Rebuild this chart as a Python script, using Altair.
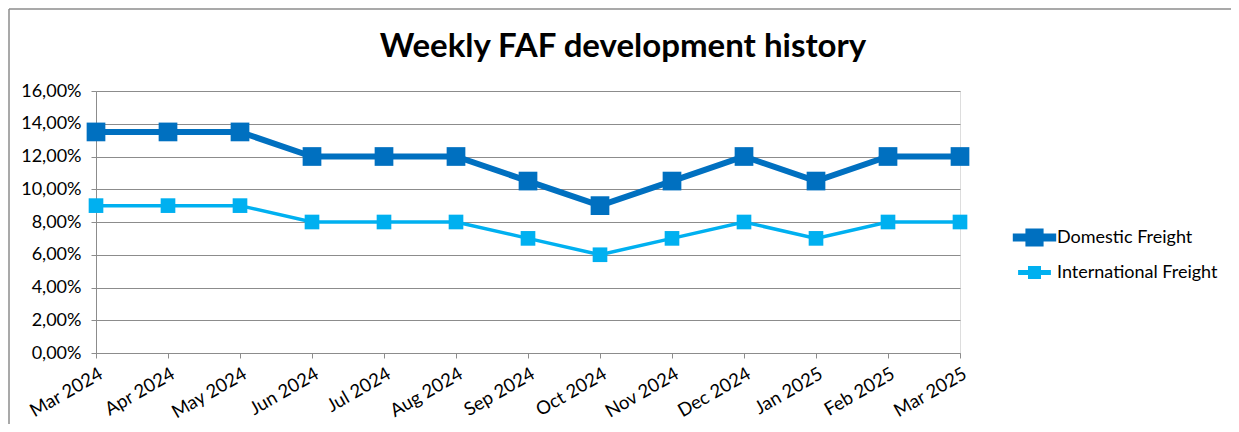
import altair as alt
import pandas as pd

months = ["Mar 2024", "Apr 2024", "May 2024", "Jun 2024", "Jul 2024", "Aug 2024",
          "Sep 2024", "Oct 2024", "Nov 2024", "Dec 2024", "Jan 2025", "Feb 2025", "Mar 2025"]
domestic = [13.5, 13.5, 13.5, 12.0, 12.0, 12.0, 10.5, 9.0, 10.5, 12.0, 10.5, 12.0, 12.0]
international = [9.0, 9.0, 9.0, 8.0, 8.0, 8.0, 7.0, 6.0, 7.0, 8.0, 7.0, 8.0, 8.0]
series_names = ["Domestic Freight", "International Freight"]
series_colors = ["#0070C0", "#00B0F0"]
y_ticks = [0, 0.02, 0.04, 0.06, 0.08, 0.10, 0.12, 0.14, 0.16]
title_text = "Weekly FAF development history"

rows = []
for name, vals in zip(series_names, [domestic, international]):
    for m, v in zip(months, vals):
        rows.append({"month": m, "series": name, "value": v / 100.0})
df = pd.DataFrame(rows)

FONT = "Lato"
GRID = "#8c8c8c"

x_enc = alt.X("month:N", sort=months, scale=alt.Scale(type="point", padding=0),
              axis=alt.Axis(title=None, labelAngle=-30, labelAlign="right", labelBaseline="top",
                            labelPadding=6, labelFontSize=18.5, labelFont=FONT, labelColor="#000",
                            tickColor=GRID, tickSize=5, domainColor=GRID, grid=False, labelFlush=False,
                            labelOverlap=False))
y_enc = alt.Y("value:Q", scale=alt.Scale(domain=[0, 0.16], nice=False),
              axis=alt.Axis(title=None, values=y_ticks,
                            labelExpr="replace(format(datum.value, '.2%'), '.', ',')",
                            labelFontSize=18, labelFont=FONT, labelColor="#000", labelPadding=10,
                            tickColor=GRID, tickSize=5, domainColor=GRID, gridColor=GRID,
                            gridWidth=1.2))

color_enc = alt.Color("series:N", scale=alt.Scale(domain=series_names, range=series_colors),
                      legend=alt.Legend(title=None, orient="none", legendX=926, legendY=134,
                                        symbolType="M-2,-0.11H2V0.11H-2Z M-0.65,-0.65H0.65V0.65H-0.65Z",
                                        symbolSize=2025, symbolStrokeWidth=0,
                                        labelFont=FONT, labelFontSize=18, labelColor="#000",
                                        labelOffset=10, rowPadding=4, labelLimit=400))

base = alt.Chart(df)

lines = base.mark_line().encode(
    x=x_enc, y=y_enc, color=color_enc,
    strokeWidth=alt.StrokeWidth("series:N", scale=alt.Scale(domain=series_names, range=[6, 3.5]), legend=None),
)
points = base.mark_point(shape="square", filled=True, opacity=1).encode(
    x=x_enc, y=y_enc, color=color_enc,
    size=alt.Size("series:N", scale=alt.Scale(domain=series_names, range=[350, 215]), legend=None),
)

one = pd.DataFrame({"a": [0]})
border_top = alt.Chart(one).mark_rule(stroke=GRID, strokeWidth=1.5).encode(
    x=alt.value(-87), x2=alt.value(1140), y=alt.value(-82)
)
border_left = alt.Chart(one).mark_rule(stroke=GRID, strokeWidth=1.5).encode(
    x=alt.value(-87), y=alt.value(-82), y2=alt.value(340)
)
title = alt.Chart(pd.DataFrame({"t": [title_text]})).mark_text(
    font=FONT, fontSize=33, fontWeight="bold", color="#000", align="center", baseline="alphabetic"
).encode(text="t:N", x=alt.value(527), y=alt.value(-34))

chart = alt.layer(border_top, border_left, lines, points, title).properties(
    width=864, height=262,
    padding={"left": 88, "top": 83, "right": 271, "bottom": 71},
    autosize=alt.AutoSizeParams(type="none"),
).configure_view(stroke=None).configure(background="white")

chart.save("out.html", embed_options={"renderer": "svg", "actions": False})
